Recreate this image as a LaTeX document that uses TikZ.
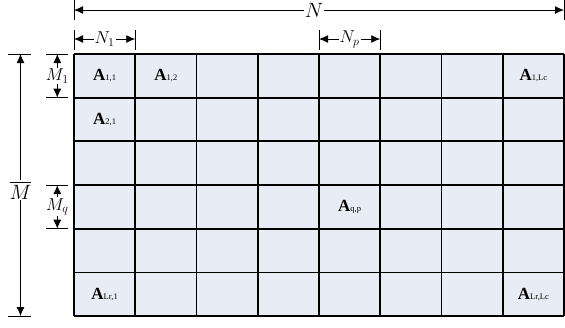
\documentclass[tikz,border=0pt]{standalone}
\usepackage{amsmath}
\usepackage{fontspec}
\usepackage{tikz}
\usetikzlibrary{arrows.meta,calc,positioning}
\newfontfamily\tnr{Liberation Serif}
\definecolor{cellfill}{HTML}{E8ECF4}
\newcommand{\blk}[1]{{\tnr\fontsize{17}{17}\selectfont\bfseries A\fontsize{8.5}{9}\selectfont\mdseries #1}}

\begin{document}
\begin{tikzpicture}[x=1pt,y=-1pt,font=\small,>={Latex[length=9pt,width=8pt]},
  cell/.style={fill=cellfill,outer sep=0pt,inner sep=0pt,minimum width=61.25pt,minimum height=43.67pt},
  gridline/.style={line width=1.7pt},
  dim/.style={<->,line width=0.9pt},
  tick/.style={line width=0.9pt},
  lbl/.style={fill=white,inner sep=1pt,font=\fontsize{20.74}{21}\selectfont},
  sublbl/.style={fill=white,inner sep=1pt,font=\fontsize{17.28}{17}\selectfont}]
\useasboundingbox (0,0) rectangle (565,327);
% the blocks
\foreach \r in {1,...,6} \foreach \c in {1,...,8}
  \node[cell] (c\r\c) at ({74+(\c-0.5)*61.25},{54+(\r-0.5)*43.67}) {};
\foreach \c in {1,...,8} \draw[gridline] (c1\c.north west) -- (c6\c.south west);
\draw[gridline] (c18.north east) -- (c68.south east);
\foreach \r in {1,...,6} \draw[gridline] (c\r1.north west) -- (c\r8.north east);
\draw[gridline] (c61.south west) -- (c68.south east);
\node (a11) at (c11) {\blk{1,1}};
\node (a12) at (c12) {\blk{1,2}};
\node (a18) at (c18) {\blk{1,Lc}};
\node (a21) at (c21) {\blk{2,1}};
\node (a45) at (c45) {\blk{q,p}};
\node (a61) at (c61) {\blk{Lr,1}};
\node (a68) at (c68) {\blk{Lr,Lc}};
% widths
\draw[tick] (c11.north west |- 0,0) -- (c11.north west |- 0,20);
\draw[tick] (c18.north east |- 0,0) -- (c18.north east |- 0,20);
\draw[dim] (c11.north west |- 0,10) -- (c18.north east |- 0,10) node[lbl,pos=0.49] (nlab) {$N$};
\draw[tick] (c11.north west |- 0,30) -- (c11.north west |- 0,50);
\draw[tick] (c11.north east |- 0,30) -- (c11.north east |- 0,50);
\draw[dim] (c11.north west |- 0,39) -- (c11.north east |- 0,39) node[sublbl,midway] (n1lab) {$N_1$};
\draw[tick] (c15.north west |- 0,30) -- (c15.north west |- 0,50);
\draw[tick] (c15.north east |- 0,30) -- (c15.north east |- 0,50);
\draw[dim] (c15.north west |- 0,39) -- (c15.north east |- 0,39) node[sublbl,midway] (nplab) {$N_p$};
% heights
\draw[tick] (8,0 |- c11.north west) -- (31,0 |- c11.north west);
\draw[tick] (8,0 |- c61.south west) -- (31,0 |- c61.south west);
\draw[dim] (20.5,0 |- c11.north west) -- (20.5,0 |- c61.south west) node[lbl,pos=0.52] (mlab) {$\overline{M}$};
\draw[tick] (46,0 |- c11.north west) -- (68,0 |- c11.north west);
\draw[tick] (46,0 |- c11.south west) -- (68,0 |- c11.south west);
\draw[dim] (57.3,0 |- c11.north west) -- (57.3,0 |- c11.south west) node[sublbl,midway] (m1lab) {$M_1$};
\draw[tick] (46,0 |- c41.north west) -- (68,0 |- c41.north west);
\draw[tick] (46,0 |- c41.south west) -- (68,0 |- c41.south west);
\draw[dim] (57.3,0 |- c41.north west) -- (57.3,0 |- c41.south west) node[sublbl,midway] (mqlab) {$M_q$};
\end{tikzpicture}
\end{document}
